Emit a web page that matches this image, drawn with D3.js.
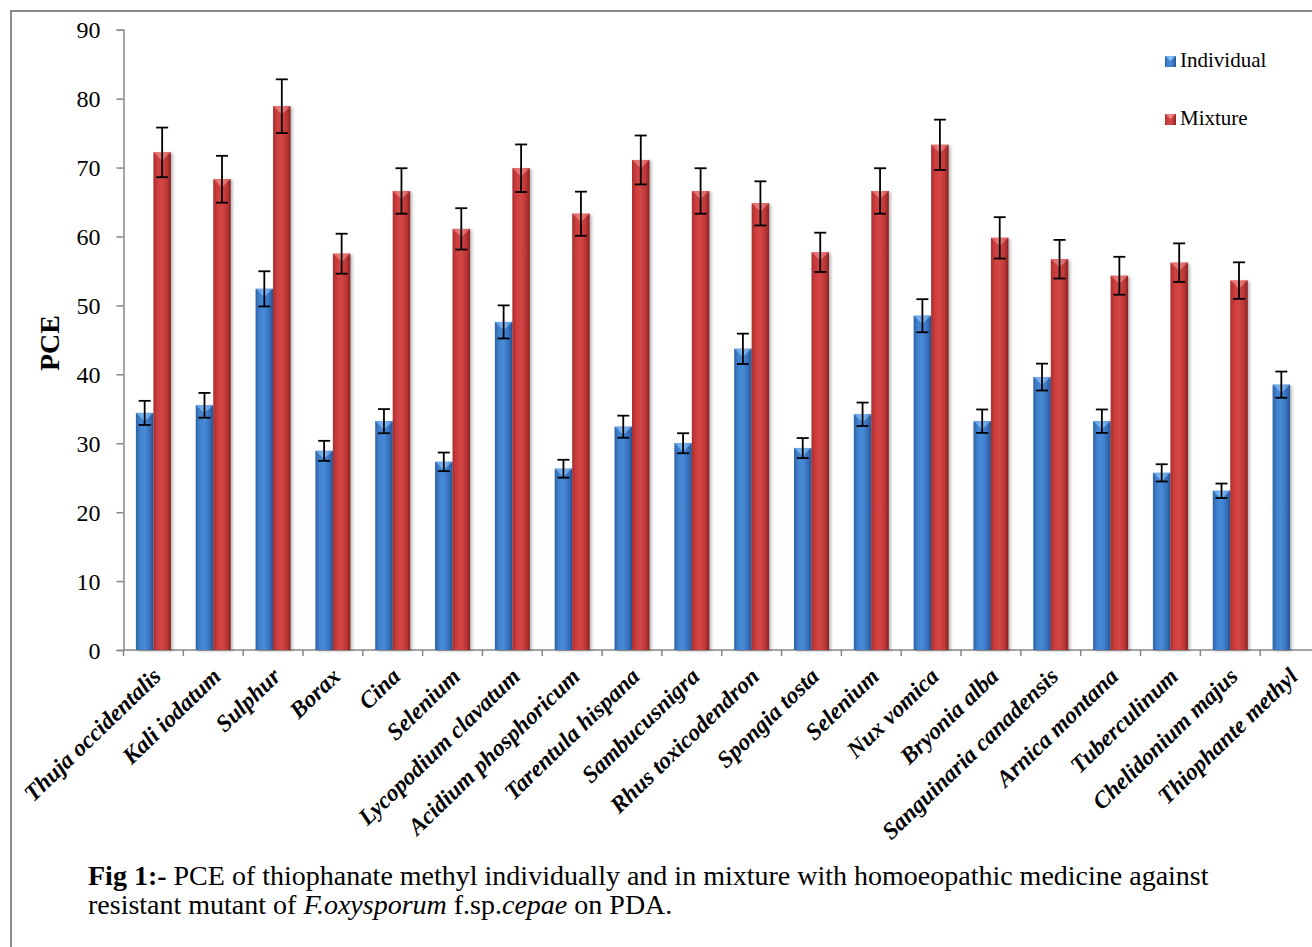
<!DOCTYPE html>
<html>
<head>
<meta charset="utf-8">
<script src="https://cdn.jsdelivr.net/npm/d3@7"></script>
<style>
  html, body { margin: 0; padding: 0; background: #fff; }
  svg { display: block; }
  text { font-family: "Liberation Serif", "Times New Roman", serif; fill: #000; }
</style>
</head>
<body>
<svg id="chart" width="1312" height="947"></svg>
<script>
const categories = ["Thuja occidentalis", "Kali iodatum", "Sulphur", "Borax", "Cina", "Selenium",
  "Lycopodium clavatum", "Acidium phosphoricum", "Tarentula hispana", "Sambucusnigra",
  "Rhus toxicodendron", "Spongia tosta", "Selenium", "Nux vomica", "Bryonia alba",
  "Sanguinaria canadensis", "Arnica montana", "Tuberculinum", "Chelidonium majus", "Thiophante methyl"];
const seriesNames = ["Individual", "Mixture"];
const individual = [34.4, 35.5, 52.4, 28.9, 33.2, 27.3, 47.6, 26.3, 32.4, 30.0, 43.7, 29.3, 34.2, 48.5, 33.2, 39.6, 33.2, 25.7, 23.1, 38.5];
const individualErr = [1.75, 1.8, 2.55, 1.45, 1.75, 1.35, 2.4, 1.3, 1.6, 1.45, 2.2, 1.45, 1.7, 2.4, 1.7, 1.95, 1.7, 1.25, 1.05, 1.9];
const mixture = [72.2, 68.3, 78.9, 57.5, 66.6, 61.1, 69.9, 63.3, 71.1, 66.6, 64.8, 57.7, 66.6, 73.3, 59.8, 56.7, 54.3, 56.2, 53.6, null];
const mixtureErr = [3.6, 3.4, 3.9, 2.9, 3.3, 3.0, 3.45, 3.2, 3.55, 3.3, 3.2, 2.85, 3.3, 3.65, 3.0, 2.8, 2.75, 2.8, 2.65, null];
const yTicks = [0, 10, 20, 30, 40, 50, 60, 70, 80, 90];

const FONT = "'Liberation Serif', 'Times New Roman', serif";
const svg = d3.select("#chart");
const plot = { left: 123.5, right: 1320, top: 29.7, bottom: 650 };

// frame
svg.append("rect").attr("x", 11).attr("y", 11).attr("width", 1330).attr("height", 960)
  .attr("fill", "none").attr("stroke", "#8a8a8a").attr("stroke-width", 2);

const defs = svg.append("defs");
function grad(id, stops) {
  const g = defs.append("linearGradient").attr("id", id).attr("x1", "0").attr("x2", "1").attr("y1", "0").attr("y2", "0");
  stops.forEach(s => g.append("stop").attr("offset", s[0]).attr("stop-color", s[1]));
}
grad("gBlue", [[0, "#2f62a4"], [0.25, "#4183d0"], [0.5, "#478ad6"], [0.8, "#376fbc"], [1, "#24518e"]]);
grad("gRed", [[0, "#a82e2e"], [0.25, "#cf3e3e"], [0.5, "#d34646"], [0.8, "#ba3535"], [1, "#842121"]]);
grad("gBlueTop", [[0, "#5a9ce6"], [0.5, "#8cc2f5"], [1, "#4d8ed8"]]);
grad("gRedTop", [[0, "#e06060"], [0.5, "#f08a8a"], [1, "#d55050"]]);
const f = defs.append("filter").attr("id", "shadow").attr("x", "-30%").attr("y", "-5%").attr("width", "160%").attr("height", "110%");
f.append("feDropShadow").attr("dx", 2).attr("dy", 1).attr("stdDeviation", 1.6).attr("flood-color", "#000").attr("flood-opacity", 0.28);

const x = d3.scaleBand().domain(d3.range(categories.length)).range([plot.left, plot.right])
  .paddingInner(0.415).paddingOuter(0.2075);
const xs = d3.scaleBand().domain(seriesNames).range([0, x.bandwidth()]);
const y = d3.scaleLinear().domain([0, 90]).range([plot.bottom, plot.top]);

// Y axis
const yAxis = d3.axisLeft(y).tickValues(yTicks).tickSize(7).tickPadding(16).tickFormat(d3.format("d"));
const gy = svg.append("g").attr("transform", `translate(${plot.left},0)`).call(yAxis)
  .attr("font-family", FONT).attr("font-size", 24);
gy.select(".domain").attr("stroke", "#868686").attr("stroke-width", 1.5);
gy.selectAll(".tick line").attr("stroke", "#868686").attr("stroke-width", 1.5);
gy.selectAll(".tick text").style("font-size", "24px").style("font-family", FONT).attr("dy", "0.34em");

// X axis line + ticks at band boundaries
const gx = svg.append("g");
gx.append("line").attr("x1", plot.left).attr("x2", 1312).attr("y1", plot.bottom).attr("y2", plot.bottom)
  .attr("stroke", "#868686").attr("stroke-width", 1.5);
const step = x.step();
gx.selectAll("line.tk").data(d3.range(categories.length + 1)).join("line").attr("class", "tk")
  .attr("x1", i => x(0) - step * x.paddingOuter() + i * step).attr("x2", i => x(0) - step * x.paddingOuter() + i * step)
  .attr("y1", plot.bottom).attr("y2", plot.bottom + 6)
  .attr("stroke", "#868686").attr("stroke-width", 1.5);

// Bars
const rows = [];
categories.forEach((c, i) => {
  rows.push({ i, s: "Individual", v: individual[i], e: individualErr[i] });
  if (mixture[i] != null) rows.push({ i, s: "Mixture", v: mixture[i], e: mixtureErr[i] });
});
const bars = svg.append("g");
const bw = xs.bandwidth();
const bg = bars.selectAll("g.bar").data(rows).join("g").attr("class", "bar")
  .attr("transform", d => `translate(${x(d.i) + xs(d.s)},0)`);
bg.append("rect").attr("x", 0).attr("width", bw)
  .attr("y", d => y(d.v)).attr("height", d => y(0) - y(d.v))
  .attr("fill", d => d.s === "Individual" ? "url(#gBlue)" : "url(#gRed)")
  .attr("filter", "url(#shadow)");
bg.append("path")
  .attr("d", d => { const t = y(d.v); return `M0,${t}L${bw},${t}L${bw / 2},${t + 8}Z`; })
  .attr("fill", d => d.s === "Individual" ? "url(#gBlueTop)" : "url(#gRedTop)").attr("opacity", 0.9);

// error bars
const eb = svg.append("g").attr("stroke", "#000").attr("stroke-width", 1.8);
rows.forEach(d => {
  const cx = x(d.i) + xs(d.s) + bw / 2;
  const y1 = y(d.v + d.e), y2 = y(d.v - d.e);
  eb.append("line").attr("x1", cx).attr("x2", cx).attr("y1", y1).attr("y2", y2);
  eb.append("line").attr("x1", cx - 6).attr("x2", cx + 6).attr("y1", y1).attr("y2", y1);
  eb.append("line").attr("x1", cx - 6).attr("x2", cx + 6).attr("y1", y2).attr("y2", y2);
});

// X labels
svg.append("g").selectAll("text").data(categories).join("text")
  .attr("transform", (d, i) => `translate(${x(i) + x.bandwidth() / 2 + 9},${plot.bottom + 28}) rotate(-44)`)
  .attr("text-anchor", "end")
  .style("font-family", FONT)
  .style("font-size", "23.5px").style("font-weight", "bold").style("font-style", "italic")
  .text(d => d);

// Y title
svg.append("text").attr("transform", `translate(59,343) rotate(-90)`).attr("text-anchor", "middle")
  .style("font-family", FONT)
  .style("font-size", "28px").style("font-weight", "bold").text("PCE");

// Legend
const leg = svg.append("g");
seriesNames.forEach((s, k) => {
  const ly = 56 + k * 58;
  leg.append("rect").attr("x", 1165).attr("y", ly).attr("width", 11).attr("height", 11)
    .attr("fill", s === "Individual" ? "url(#gBlue)" : "url(#gRed)");
  leg.append("path").attr("d", `M1165,${ly}L1176,${ly}L1170.5,${ly + 5}Z`)
    .attr("fill", s === "Individual" ? "url(#gBlueTop)" : "url(#gRedTop)");
  leg.append("text").attr("x", 1180).attr("y", ly + 11).style("font-family", FONT).style("font-size", "21px").text(s);
});

// Caption
const cap = svg.append("g").style("font-size", "28px").style("font-family", FONT);
const l1 = cap.append("text").attr("x", 88).attr("y", 885);
l1.append("tspan").style("font-weight", "bold").text("Fig 1:-");
l1.append("tspan").text(" PCE of thiophanate methyl individually and in mixture with homoeopathic medicine against");
const l2 = cap.append("text").attr("x", 88).attr("y", 914);
l2.append("tspan").text("resistant mutant of ");
l2.append("tspan").style("font-style", "italic").text("F.oxysporum");
l2.append("tspan").text(" f.sp.");
l2.append("tspan").style("font-style", "italic").text("cepae");
l2.append("tspan").text(" on PDA.");
</script>
</body>
</html>
